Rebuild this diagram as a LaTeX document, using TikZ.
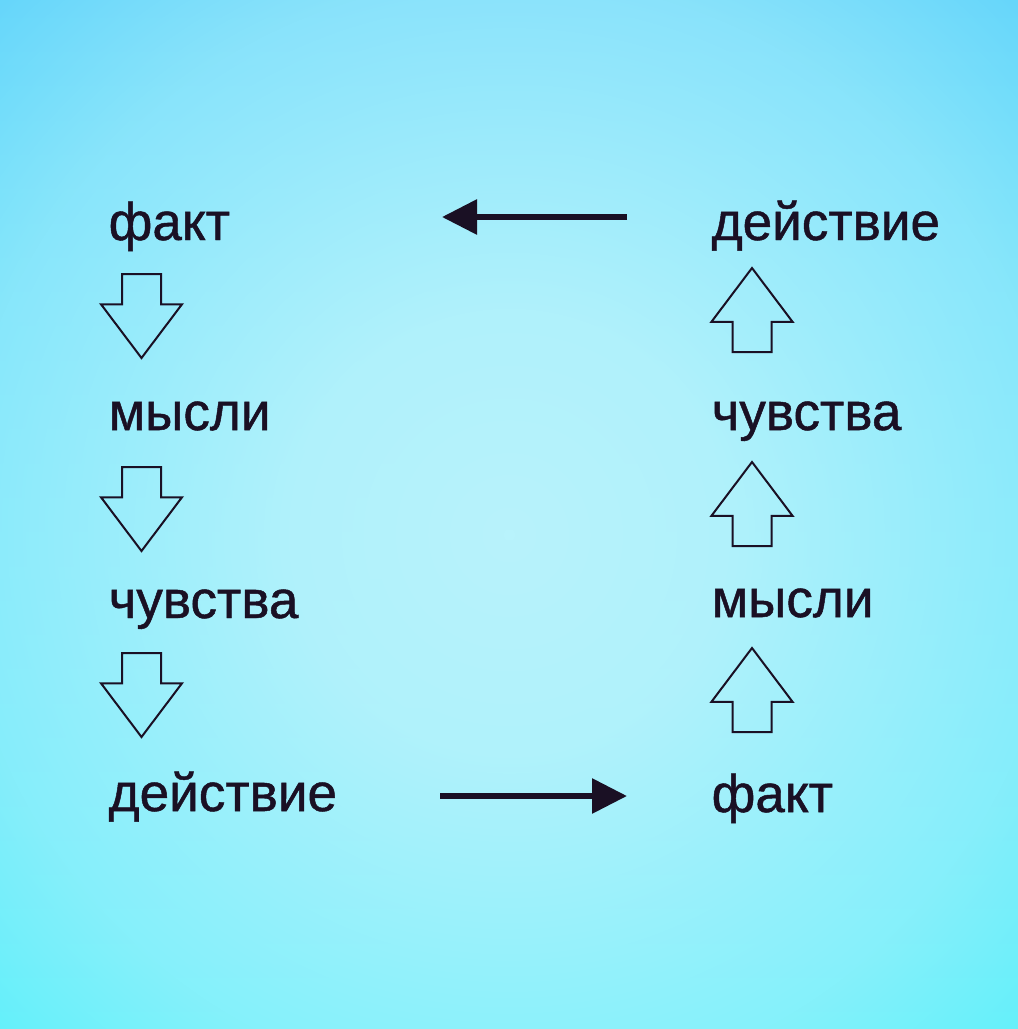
\documentclass[tikz,border=0pt]{standalone}
\usepackage{fontspec}
\setmainfont{Liberation Sans}
\newfontfamily\lpfont{Liberation Sans}[FakeBold=0.9]
\usetikzlibrary{arrows.meta,positioning,shapes.arrows,fadings}
\definecolor{lpink}{HTML}{1A1024}
\definecolor{lpskytop}{HTML}{5AD2FA}
\definecolor{lpskybot}{HTML}{52F0FA}
\definecolor{lpglowc}{HTML}{B8F3FC}
\pgfdeclareradialshading{lpglowshade}{\pgfpoint{0bp}{0bp}}{color(0bp)=(white); color(10bp)=(white!92!black); color(25bp)=(white!50!black); color(35bp)=(white!5!black); color(50bp)=(black)}
\pgfdeclarefading{lpglow}{\pgfuseshading{lpglowshade}}
\tikzset{
  lpword/.style={anchor=base west, text=lpink, inner sep=0pt, font=\lpfont\fontsize{15.1pt}{18pt}\selectfont},
  lpblock/.style={single arrow, draw=lpink, line width=.2mm, minimum height=8.4mm, inner xsep=0pt, inner ysep=1.85mm, single arrow head extend=2.1mm, single arrow tip angle=74, anchor=tail},
  lpdown/.style={lpblock, rotate=-90},
  lpup/.style={lpblock, rotate=90},
  lparr/.style={-{Triangle[length=3.5mm,width=3.4mm]}, line width=.6mm, draw=lpink}
}

\begin{document}
\begin{tikzpicture}[x=.1mm, y=-.1mm]
  \useasboundingbox (0,0) rectangle (1018,1029);
  \shade[top color=lpskytop, bottom color=lpskybot] (0,0) rectangle (1018,1029);
  \begin{scope}
    \clip (0,0) rectangle (1018,1029);
    \fill[lpglowc, path fading=lpglow] (-40,-20) rectangle (1058,1089);
  \end{scope}
  \node[lpword] (fakt1) at (108,240) {факт};
  \node[lpword] (mysli1) at (108,430) {мысли};
  \node[lpword] (chuv1) at (108,618) {чувства};
  \node[lpword] (deist1) at (108,811) {действие};
  \node[lpword] (deist2) at (711,240) {действие};
  \node[lpword] (chuv2) at (711,430) {чувства};
  \node[lpword] (mysli2) at (711,617) {мысли};
  \node[lpword] (fakt2) at (711,812) {факт};
  \node[lpdown] (d1) at (141.5,273) {};
  \node[lpdown] (d2) at (141.5,466) {};
  \node[lpdown] (d3) at (141.5,652) {};
  \node[lpup] (u1) at (752,353) {};
  \node[lpup] (u2) at (752,547) {};
  \node[lpup] (u3) at (752,733) {};
  \coordinate (back0) at (627,217);
  \coordinate (back1) at (442,217);
  \coordinate (go0) at (440,796);
  \coordinate (go1) at (627,796);
  \draw[lparr] (back0) -- (back1);
  \draw[lparr] (go0) -- (go1);
\end{tikzpicture}
\end{document}
